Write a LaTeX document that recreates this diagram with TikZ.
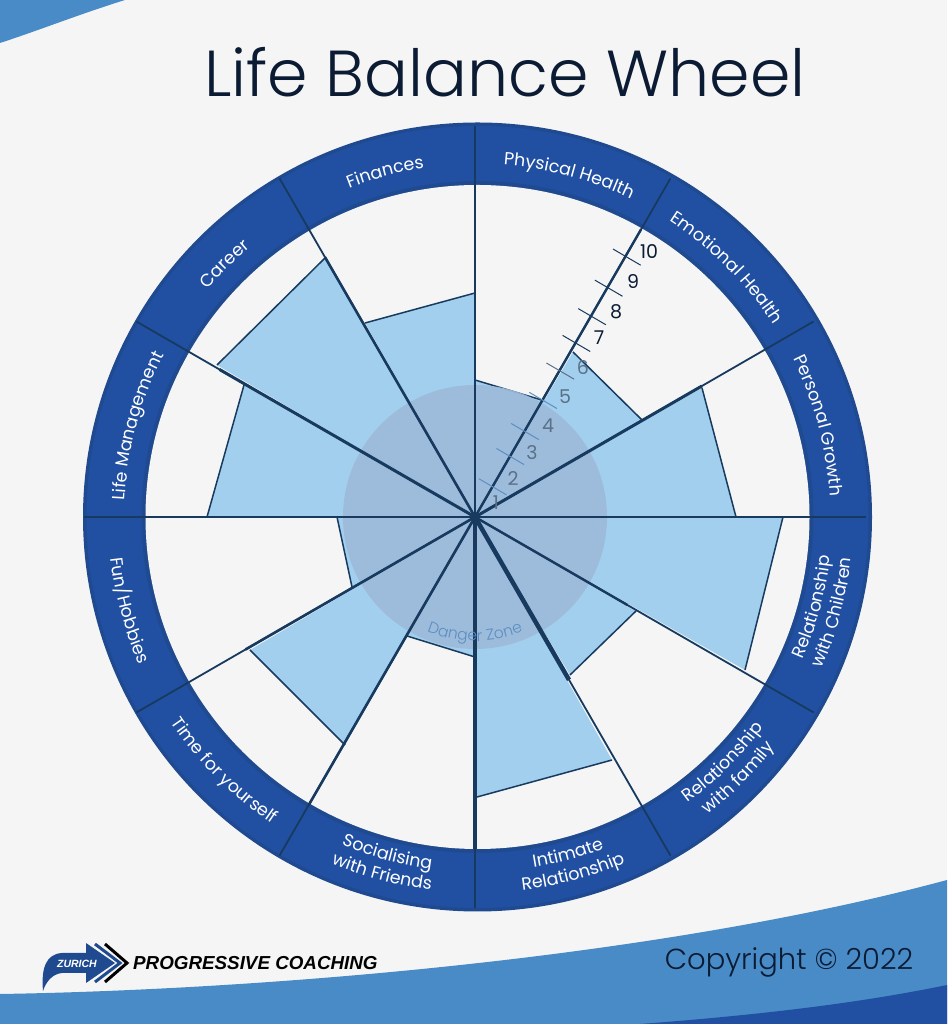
\documentclass[tikz,border=0pt]{standalone}
\usepackage{fontspec}
\usetikzlibrary{decorations.text}
\setmainfont{Poppins}
\newfontfamily\lightfont{Poppins Light}
\newfontfamily\logofont{Liberation Sans}
\definecolor{bg}{HTML}{F5F5F5}
\definecolor{wave}{HTML}{488BC7}
\definecolor{deep}{HTML}{2150A3}
\definecolor{rim}{HTML}{1F4A90}
\definecolor{spoke}{HTML}{173A5E}
\definecolor{sky}{HTML}{A2CFEE}
\definecolor{zone}{HTML}{9DBAD9}
\definecolor{zonetxt}{HTML}{5D8FC2}
\definecolor{grey}{HTML}{5A7188}
\definecolor{ink}{HTML}{0B1B33}
\newcommand\lf{\fontsize{17.5}{17.5}\selectfont\color{white}}
\newcommand\dz{\lightfont\fontsize{15.5}{15.5}\selectfont\color{zonetxt}}
% clockwise label: mid angle, baseline radius, text
\newcommand\cwlabel[3]{\path[decorate,decoration={text along path,text align=center,text={|\lf|#3}}]
  ([shift={(#1+35:#2pt)}]ctr) arc[start angle=#1+35,end angle=#1-35,radius=#2pt];}
% counter-clockwise label
\newcommand\ccwlabel[3]{\path[decorate,decoration={text along path,text align=center,text={|\lf|#3}}]
  ([shift={(#1-35:#2pt)}]ctr) arc[start angle=#1-35,end angle=#1+35,radius=#2pt];}
\tikzset{
  img/.style={yshift=1024pt,yscale=-1},
  sector/.style={fill=sky,draw=none},
  sectoredge/.style={draw=spoke,line width=1.5pt},
  spk/.style={draw=spoke,line width=1.8pt},
  num/.style={font=\fontsize{19}{19}\selectfont,inner sep=0pt},
}
\begin{document}
\begin{tikzpicture}[x=1pt,y=1pt]
\useasboundingbox (0,0) rectangle (947,1024);
\fill[bg] (0,0) rectangle (947,1024);
\coordinate (ctr) at (477.5,507);
\coordinate (hub) at (475,507);
\begin{scope}[img]
  \fill[wave] (0,0) -- (125,0) .. controls (80,14) and (40,30) .. (0,43) -- cycle;
  \fill[wave] (0,994) .. controls (250,990) and (650,960) .. (947,880) -- (947,1024) -- (0,1024) -- cycle;
  \fill[deep] (640,1024) .. controls (760,1015) and (860,1003) .. (947,985) -- (947,1024) -- cycle;
\end{scope}
% ring
\fill[rim] (ctr) circle[radius=394.5pt];
\fill[deep] (ctr) circle[radius=391pt];
\fill[rim] (ctr) circle[radius=336pt];
\fill[bg] (ctr) circle[radius=332pt];
% sectors
\begin{scope}[img]
  \foreach \na/\ax/\ay/\bx/\by in {
    ph/475/380/545/401, em/573/352/642/420, pg/702/388/736/517,
    ch/783/517/745/670, fa/636/611/570/675, in/612/760/477/797,
    so/475/657/407/636, ti/345/745/250/650, fu/352/587/337/517,
    li/207/517/244/385, ca/217/365/325/258, fi/365/323/475/293}{
    \coordinate (\na a) at (\ax,\ay);
    \coordinate (\na b) at (\bx,\by);
    \fill[sector] (475,517) -- (\na a) -- (\na b) -- cycle;
    \draw[sectoredge] (\na a) -- (\na b);
  }
\end{scope}
\fill[zone,fill opacity=.92] (hub) circle[radius=132pt];
% spokes
\foreach \a/\w/\l in {90/2.2/137, 60/2.4/332, 30/3/262, 0/2.2/261, -30/2.4/176, -60/4.5/188,
    -90/3.6/332, -120/2.6/332, -150/2.6/265, 180/2.6/268, 150/3/295, 120/2.6/300}{
  \coordinate (e\a) at ([shift={(\a:391pt)}]hub);
  \coordinate (t\a) at ([shift={(\a:\l pt)}]hub);
  \draw[spk] (hub) -- (e\a);
  \draw[draw=spoke,line width=\w pt] (hub) -- (t\a);
}
\fill[spoke] (hub) circle[radius=4pt];
% ticks on the scale
\foreach \r/\c in {35/zonetxt,70/zonetxt,99/zonetxt,135/zonetxt,169/grey,201/spoke,232/spoke,265/spoke,301/spoke}{
  \coordinate (tc) at ([shift={(59.7:\r pt)}]hub);
  \coordinate (tp) at ([shift={(149.7:16pt)}]tc);
  \coordinate (tq) at ([shift={(-30.3:16pt)}]tc);
  \draw[draw=\c,line width=1pt] (tp) -- (tq);
}
% scale numbers
\begin{scope}[img]
  \node[num,text=grey] (n1) at (496,503) {1};
  \node[num,text=grey] (n2) at (513,479) {2};
  \node[num,text=grey] (n3) at (532,453) {3};
  \node[num,text=grey] (n4) at (548,426) {4};
  \node[num,text=grey] (n5) at (565,397) {5};
  \node[num,text=grey] (n6) at (583,368) {6};
  \node[num,text=ink] (n7) at (599,338) {7};
  \node[num,text=ink] (n8) at (616,312) {8};
  \node[num,text=ink] (n9) at (633,282) {9};
  \node[num,text=ink] (n10) at (649,252) {10};
\end{scope}
% ring labels
\cwlabel{75}{353}{Physical Health}
\cwlabel{45}{353}{Emotional Health}
\cwlabel{15}{353}{Personal Growth}
\cwlabel{105}{353}{Finances}
\cwlabel{135}{353}{Career}
\cwlabel{165}{353}{Life Management}
\ccwlabel{-165}{369}{Fun/Hobbies}
\ccwlabel{-135}{369}{Time for yourself}
\ccwlabel{-105}{355}{Socialising}
\ccwlabel{-105}{376}{with Friends}
\ccwlabel{-75}{355}{Intimate}
\ccwlabel{-75}{376}{Relationship}
\ccwlabel{-45}{355}{Relationship}
\ccwlabel{-45}{376}{with family}
\ccwlabel{-15}{355}{Relationship}
\ccwlabel{-15}{376}{with Children}
\path[decorate,decoration={text along path,text align=center,text={|\dz|Danger Zone}}]
  ([shift={(-130:124pt)}]hub) arc[start angle=-130,end angle=-50,radius=124pt];
\begin{scope}[img]
  \node[font=\lightfont\fontsize{65}{65}\selectfont,text=ink,inner sep=0pt] (title) at (505,72) {Life Balance Wheel};
  \node[font=\lightfont\fontsize{29}{29}\selectfont,text=ink,inner sep=0pt] (copy) at (789,962) {Copyright © 2022};
  % logo
  \fill[rim] (43,991) .. controls (41,968) and (46,954) .. (62,953) -- (86,953) -- (86,943) -- (115,963) -- (86,983) -- (86,973) -- (62,973) .. controls (52,974) and (46,982) .. (43,991) -- cycle;
  \draw[rim,line width=3pt] (95,944) -- (120,963) -- (95,982);
  \draw[black,line width=3pt] (105,944) -- (127,963) -- (105,982);
  \node[font=\logofont\bfseries\itshape\fontsize{10.5}{10.5}\selectfont,text=white,inner sep=0pt] (zur) at (77,963.5) {ZURICH};
  \node[font=\logofont\bfseries\itshape\fontsize{18.8}{18.8}\selectfont,anchor=west,inner sep=0pt] (pc) at (133,963.5) {PROGRESSIVE COACHING};
\end{scope}
\end{tikzpicture}
\end{document}
